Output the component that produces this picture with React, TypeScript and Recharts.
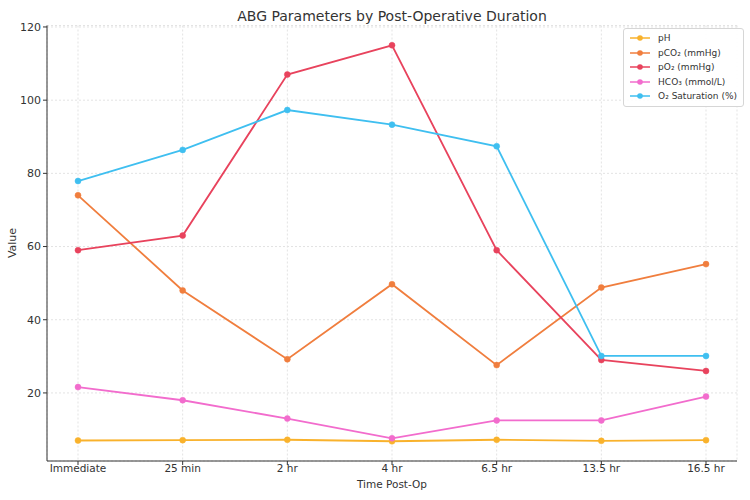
import React from 'react'
import {
  LineChart, Line, XAxis, YAxis, CartesianGrid,
} from 'recharts'

/* ── Data ── */

const TIMES = ['Immediate', '25 min', '2 hr', '4 hr', '6.5 hr', '13.5 hr', '16.5 hr']

const PH = [7.0, 7.1, 7.2, 6.8, 7.2, 6.9, 7.1]
const PCO2 = [74, 48, 29.2, 49.7, 27.6, 48.8, 55.2]
const PO2 = [59, 63, 107, 115, 59, 29, 26]
const HCO3 = [21.6, 18, 13, 7.6, 12.5, 12.5, 19]
const O2_SAT = [77.9, 86.4, 97.3, 93.3, 87.4, 30.1, 30.1]

const Y_TICKS = [20, 40, 60, 80, 100, 120]

const SERIES = [
  { key: 'ph', name: 'pH', color: '#f9b22c', values: PH },
  { key: 'pco2', name: 'pCO₂ (mmHg)', color: '#f07e3e', values: PCO2 },
  { key: 'po2', name: 'pO₂ (mmHg)', color: '#e8435d', values: PO2 },
  { key: 'hco3', name: 'HCO₃ (mmol/L)', color: '#f26ccd', values: HCO3 },
  { key: 'o2', name: 'O₂ Saturation (%)', color: '#3fbff0', values: O2_SAT },
]

const rows = TIMES.map((t, i) => {
  const row: Record<string, string | number> = { time: t }
  SERIES.forEach(s => { row[s.key] = s.values[i] })
  return row
})

const FONT = 'DejaVu Sans, sans-serif'
const TEXT = '#333'

/* legend box sits inside the plot, top-right corner */
function LegendBox() {
  return (
    <div
      style={{
        position: 'absolute',
        top: 28,
        right: 6,
        background: 'rgba(255,255,255,0.9)',
        border: '1px solid #d6d6d6',
        borderRadius: 3,
        padding: '2px 6px 2px 5px',
        fontFamily: FONT,
        fontSize: 9,
        color: TEXT,
        lineHeight: '14.5px',
      }}
    >
      {SERIES.map(s => (
        <div key={s.key} style={{ display: 'flex', alignItems: 'center' }}>
          <svg width={22} height={10} style={{ marginRight: 7 }}>
            <line x1={1} x2={21} y1={5} y2={5} stroke={s.color} strokeWidth={1.5} />
            <circle cx={11} cy={5} r={2.8} fill={s.color} />
          </svg>
          <span>{s.name}</span>
        </div>
      ))}
    </div>
  )
}

export default function App() {
  return (
    <div style={{ position: 'fixed', left: 0, top: 0, width: 750, height: 500, background: '#fff' }}>
      <LineChart
        width={750}
        height={500}
        data={rows}
        margin={{ top: 25.5, right: 13, bottom: 0, left: 0 }}
      >
        <text x={392} y={21} textAnchor="middle" fontFamily={FONT} fontSize={14} fill={TEXT}>
          ABG Parameters by Post-Operative Duration
        </text>
        <text
          x={16}
          y={243}
          textAnchor="middle"
          fontFamily={FONT}
          fontSize={11}
          fill={TEXT}
          transform="rotate(-90 16 243)"
        >
          Value
        </text>
        <text x={392} y={488} textAnchor="middle" fontFamily={FONT} fontSize={10.5} fill={TEXT}>
          Time Post-Op
        </text>
        <CartesianGrid stroke="#e3e3e3" strokeDasharray="2 2" />
        <XAxis
          dataKey="time"
          height={39}
          padding={{ left: 31, right: 31 }}
          stroke="#333"
          tickLine={{ stroke: '#333' }}
          tickSize={4}
          tickMargin={0}
          tick={{ fill: TEXT, fontSize: 10.5, fontFamily: FONT }}
          interval={0}
        />
        <YAxis
          width={47}
          domain={[1.4, 120.4]}
          ticks={Y_TICKS}
          allowDataOverflow
          stroke="#333"
          tickLine={{ stroke: '#333' }}
          tickSize={4}
          tick={{ fill: TEXT, fontSize: 11, fontFamily: FONT }}
        />
        {SERIES.map(s => (
          <Line
            key={s.key}
            dataKey={s.key}
            name={s.name}
            type="linear"
            stroke={s.color}
            strokeWidth={1.8}
            dot={{ r: 3, fill: s.color, stroke: s.color, strokeWidth: 0.5 }}
            activeDot={false}
            isAnimationActive={false}
          />
        ))}
      </LineChart>
      <LegendBox />
    </div>
  )
}
